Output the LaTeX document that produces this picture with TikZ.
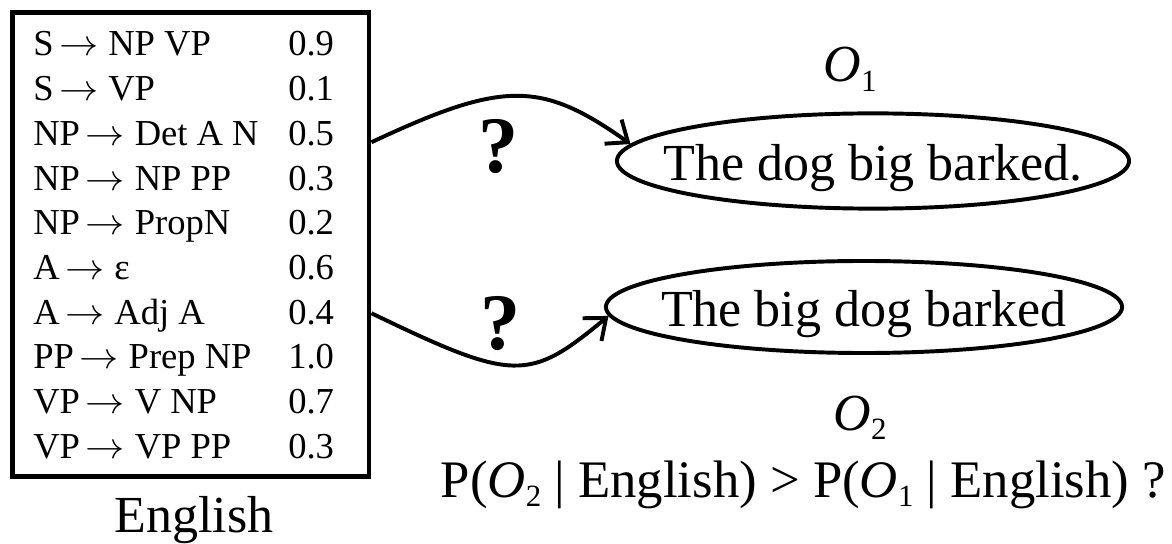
\documentclass[tikz,border=0pt]{standalone}
\usepackage{fontspec}
\setmainfont{Liberation Serif}
\usepackage{tikz}
\usetikzlibrary{arrows.meta,shapes.geometric,calc}

\newcommand{\obsv}[1]{\textit{O}\raisebox{-0.18em}{\fontsize{22}{22}\selectfont #1}}
\newcommand{\rto}{$\,\scalebox{1.12}[1.05]{$\rightarrow$}\;$}

\tikzset{
  gram_box/.style={draw=black,line width=3.5pt,minimum width=8.91cm,minimum height=11.59cm,inner sep=0pt},
  rule_txt/.style={anchor=base west,inner sep=0pt,font=\fontsize{26}{30}\selectfont},
  sent_ell/.style={draw=black,ellipse,line width=2.8pt,inner sep=0pt,text height=0.95cm,text depth=0pt,
    font=\fontsize{37}{44}\selectfont},
  big_txt/.style={inner sep=0pt,font=\fontsize{37}{44}\selectfont},
  qmark/.style={anchor=base,inner sep=0pt,font=\fontsize{57}{60}\selectfont\bfseries},
  arr/.style={-{Straight Barb[length=13pt,width=21pt]},line width=2.8pt},
}

\begin{document}
\begin{tikzpicture}[x=0.025cm,y=-0.025cm]
  \useasboundingbox (0,0) rectangle (1172,544);

  % grammar
  \node[gram_box] (rules) at (190.75,244.25) {};
  \foreach \rul/\prb [count=\i from 0] in {S\rto NP VP/0.9, S\rto VP/0.1, NP\rto Det A N/0.5,
      NP\rto NP PP/0.3, NP\rto PropN/0.2, A\rto ε/0.6, A\rto Adj A/0.4, PP\rto Prep NP/1.0,
      VP\rto V NP/0.7, VP\rto VP PP/0.3}{
    \node[rule_txt] (rul\i) at (33,56+44.7*\i) {\rul};
    \node[rule_txt] (prb\i) at (288,56+44.7*\i) {\prb};
  }
  \node[big_txt,anchor=base] (lang) at (194,532) {English};

  % observed sentences
  \node[sent_ell,minimum width=12.8cm,minimum height=2.38cm] (sent1) at (873,161) {\makebox[0pt]{The dog big barked.}};
  \node[sent_ell,minimum width=12.9cm,minimum height=2.3cm] (sent2) at (864,307) {\makebox[0pt]{The big dog barked}};
  \node[big_txt,anchor=base] (obs1) at (850,82) {\obsv{1}};
  \node[big_txt,anchor=base] (obs2) at (860,430) {\obsv{2}};
  \node[big_txt,anchor=base east,font=\fontsize{37.5}{44}\selectfont] (cmp) at (1166,497)
    {P(\obsv{2} | English) > P(\obsv{1} | English) ?};

  \coordinate (g1) at ($(rules.east)+(0,-102)$);
  \coordinate (g2) at ($(rules.east)+(0,69)$);
  \draw[arr] (g1) .. controls (503,80.5) and (541,80.5) .. (sent1.176);
  \draw[arr] (g2) .. controls (514,382) and (529,382) .. (sent2.182);
  \node[qmark] (q1) at (499,173) {?};
  \node[qmark] (q2) at (501,350) {?};
\end{tikzpicture}
\end{document}
